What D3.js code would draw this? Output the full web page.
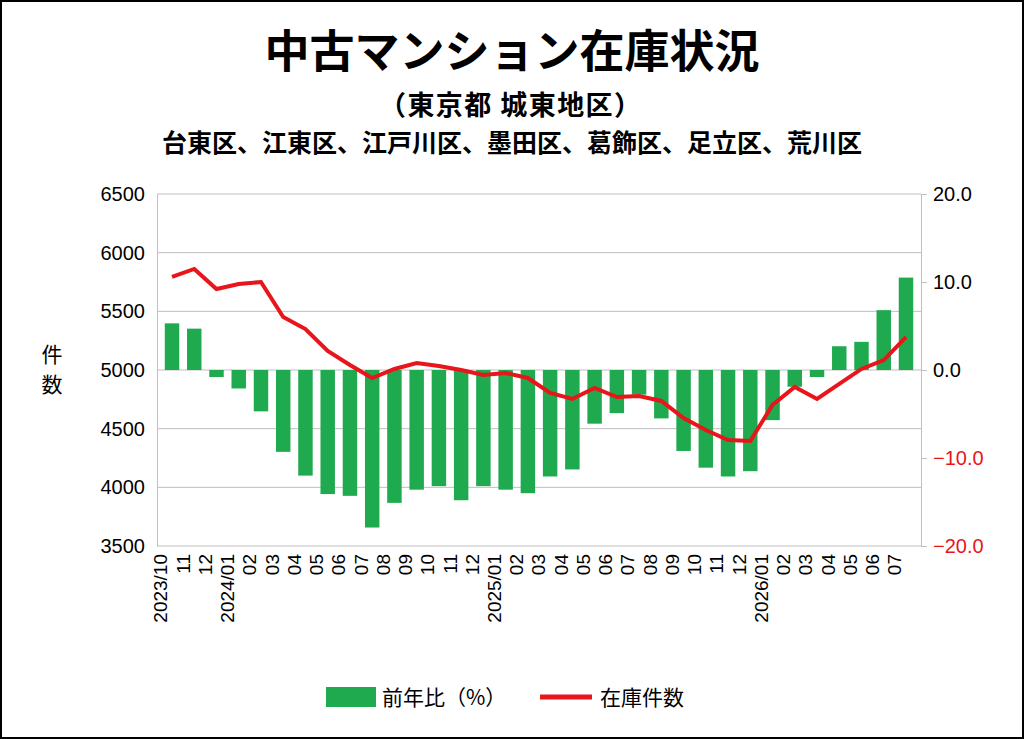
<!DOCTYPE html>
<html><head><meta charset="utf-8">
<script src="https://cdn.jsdelivr.net/npm/d3@7"></script>
<style>body{margin:0;background:#fff}svg{display:block;font-family:"Noto Sans CJK JP","Noto Sans",sans-serif}</style>
</head><body><div id="chart"></div>
<script>
// Values
var months = ["2023/10","11","12","2024/01","02","03","04","05","06","07","08","09","10","11","12",
  "2025/01","02","03","04","05","06","07","08","09","10","11","12","2026/01","02","03","04","05","06","07"];
var yoy = [5.3,4.7,-0.8,-2.1,-4.7,-9.3,-12,-14.1,-14.3,-17.9,-15.1,-13.6,-13.2,-14.8,-13.2,
  -13.6,-14,-12.1,-11.3,-6.1,-4.9,-2.8,-5.5,-9.2,-11.1,-12.1,-11.5,-5.7,-1.9,-0.8,2.7,3.2,6.8,10.5];
var stock = [5793,5861,5690,5733,5750,5452,5349,5162,5043,4932,5009,5060,5034,5000,4957,
  4974,4932,4804,4753,4847,4770,4778,4736,4591,4489,4403,4395,4702,4855,4753,4881,5009,5085,5281];
var leftTicks = [3500,4000,4500,5000,5500,6000,6500];
var rightTicks = [-20,-10,0,10,20];

var W = 1024, H = 739;
var m = {left:157, right:103, top:194, bottom:193};
var svg = d3.select("#chart").append("svg").attr("width", W).attr("height", H);
svg.append("rect").attr("x",1).attr("y",1).attr("width",W-2).attr("height",H-2)
  .attr("fill","#fff").attr("stroke","#000").attr("stroke-width",2);

var x = d3.scaleBand().domain(d3.range(months.length)).range([m.left, W - m.right]).padding(0.35);
var yL = d3.scaleLinear().domain([3500,6500]).range([H - m.bottom, m.top]);
var yR = d3.scaleLinear().domain([-20,20]).range([H - m.bottom, m.top]);

// gridlines
svg.append("g").selectAll("line").data(leftTicks).join("line")
  .attr("x1", m.left).attr("x2", W - m.right)
  .attr("y1", d => yL(d)).attr("y2", d => yL(d)).attr("stroke", "#bfbfbf");

// bars
svg.append("g").selectAll("rect").data(yoy).join("rect")
  .attr("x", (d,i) => x(i)).attr("width", x.bandwidth())
  .attr("y", d => yR(Math.max(0,d))).attr("height", d => Math.abs(yR(d) - yR(0)))
  .attr("fill", "#1faa50");

// line
svg.append("path").datum(stock)
  .attr("d", d3.line().x((d,i) => x(i) + x.bandwidth()/2).y(d => yL(d)))
  .attr("fill","none").attr("stroke","#e8151b").attr("stroke-width",4);

// axes
var la = svg.append("g").attr("transform", `translate(${m.left},0)`)
  .call(d3.axisLeft(yL).tickValues(leftTicks).tickSize(0).tickPadding(12).tickFormat(d3.format("d")));
la.select(".domain").attr("stroke","#bfbfbf");
la.selectAll("text").attr("font-family","Liberation Sans,Arial").attr("font-size",20).attr("fill","#000");

var ra = svg.append("g").attr("transform", `translate(${W - m.right},0)`)
  .call(d3.axisRight(yR).tickValues(rightTicks).tickSize(6).tickFormat(d3.format(".1f")).tickPadding(6));
ra.select(".domain").attr("stroke","#bfbfbf");
ra.selectAll("line").attr("stroke","#bfbfbf");
ra.selectAll("text").attr("font-family","Liberation Sans,Arial").attr("font-size",20)
  .attr("fill", d => d < 0 ? "#e8151b" : "#000");

var xa = svg.append("g").attr("transform", `translate(0,${H - m.bottom})`)
  .call(d3.axisBottom(x).tickSize(0).tickFormat(i => months[i]));
xa.select(".domain").remove();
xa.selectAll("text").attr("font-family","Liberation Sans,Arial").attr("font-size",19).attr("fill","#000")
  .attr("transform","rotate(-90)").attr("text-anchor","end").attr("dx","-8").attr("dy","-0.35em")
  .attr("x",0).attr("y",0);
xa.selectAll(".tick").attr("transform", (i) => `translate(${x(i) + x.bandwidth()/2 + 2},0)`);

// titles
svg.append("text").attr("x", W/2).attr("y", 68).attr("text-anchor","middle")
  .attr("font-size",45).attr("font-weight","bold").text("中古マンション在庫状況");
svg.append("text").attr("x", W/2 - 2).attr("y", 115).attr("text-anchor","middle")
  .attr("font-size",27).attr("font-weight","bold").attr("textLength",262).text("（東京都 城東地区）");
svg.append("text").attr("x", W/2).attr("y", 152).attr("text-anchor","middle")
  .attr("font-size",25).attr("font-weight","bold").text("台東区、江東区、江戸川区、墨田区、葛飾区、足立区、荒川区");
svg.append("text").attr("x", 52).attr("y", 362).attr("text-anchor","middle").attr("font-size",21).text("件");
svg.append("text").attr("x", 52).attr("y", 392).attr("text-anchor","middle").attr("font-size",21).text("数");

// legend
var lg = svg.append("g").attr("font-size",21);
lg.append("rect").attr("x",326).attr("y",687).attr("width",50).attr("height",20).attr("fill","#1faa50");
lg.append("text").attr("x",382).attr("y",705).text("前年比（%）");
lg.append("line").attr("x1",540).attr("x2",592).attr("y1",697).attr("y2",697)
  .attr("stroke","#e8151b").attr("stroke-width",5);
lg.append("text").attr("x",600).attr("y",705).text("在庫件数");
</script></body></html>
